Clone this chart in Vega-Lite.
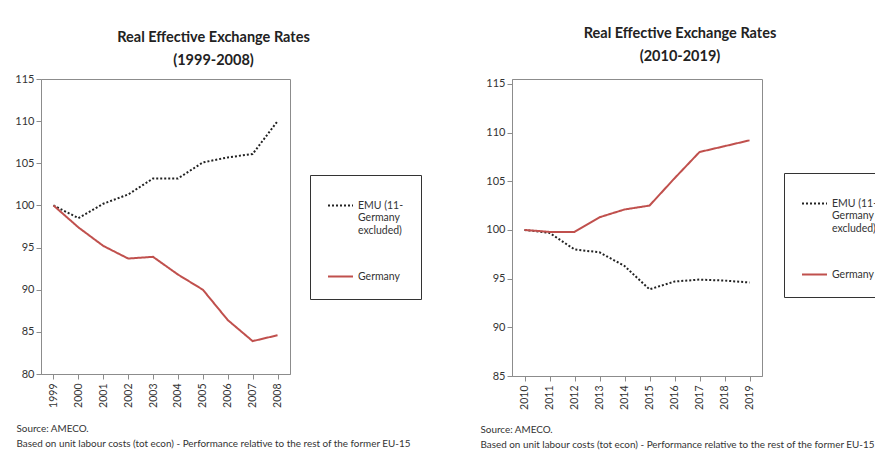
{
  "$schema": "https://vega.github.io/schema/vega-lite/v6.json",
  "padding": {"left": 14, "top": 25, "right": 0, "bottom": 0},
  "background": "white",
  "resolve": {"scale": {"color": "independent", "strokeDash": "independent", "x": "independent", "y": "independent"}, "legend": {"color": "independent", "strokeDash": "independent"}},
  "config": {
    "view": {"stroke": "#8c8c8c", "strokeWidth": 1},
    "font": "Lato",
    "concat": {"spacing": 57},
    "axis": {"labelFont": "Lato", "labelFontSize": 11, "labelColor": "#333", "domainColor": "#8c8c8c", "tickColor": "#8c8c8c", "grid": false},
    "legend": {"labelFont": "Lato", "labelFontSize": 10.5, "labelColor": "#333"}
  },
  "datasets": {
    "a": [
      {"year": "1999", "series": "EMU", "value": 100},
      {"year": "2000", "series": "EMU", "value": 98.5},
      {"year": "2001", "series": "EMU", "value": 100.2},
      {"year": "2002", "series": "EMU", "value": 101.3},
      {"year": "2003", "series": "EMU", "value": 103.2},
      {"year": "2004", "series": "EMU", "value": 103.2},
      {"year": "2005", "series": "EMU", "value": 105.1},
      {"year": "2006", "series": "EMU", "value": 105.7},
      {"year": "2007", "series": "EMU", "value": 106.1},
      {"year": "2008", "series": "EMU", "value": 110},
      {"year": "1999", "series": "Germany", "value": 100},
      {"year": "2000", "series": "Germany", "value": 97.4},
      {"year": "2001", "series": "Germany", "value": 95.2},
      {"year": "2002", "series": "Germany", "value": 93.7},
      {"year": "2003", "series": "Germany", "value": 93.9},
      {"year": "2004", "series": "Germany", "value": 91.8},
      {"year": "2005", "series": "Germany", "value": 90},
      {"year": "2006", "series": "Germany", "value": 86.4},
      {"year": "2007", "series": "Germany", "value": 83.9},
      {"year": "2008", "series": "Germany", "value": 84.6}
    ],
    "b": [
      {"year": "2010", "series": "EMU", "value": 100},
      {"year": "2011", "series": "EMU", "value": 99.7},
      {"year": "2012", "series": "EMU", "value": 98},
      {"year": "2013", "series": "EMU", "value": 97.7},
      {"year": "2014", "series": "EMU", "value": 96.3},
      {"year": "2015", "series": "EMU", "value": 93.9},
      {"year": "2016", "series": "EMU", "value": 94.7},
      {"year": "2017", "series": "EMU", "value": 94.9},
      {"year": "2018", "series": "EMU", "value": 94.8},
      {"year": "2019", "series": "EMU", "value": 94.6},
      {"year": "2010", "series": "Germany", "value": 100},
      {"year": "2011", "series": "Germany", "value": 99.8},
      {"year": "2012", "series": "Germany", "value": 99.8},
      {"year": "2013", "series": "Germany", "value": 101.3},
      {"year": "2014", "series": "Germany", "value": 102.1},
      {"year": "2015", "series": "Germany", "value": 102.5},
      {"year": "2016", "series": "Germany", "value": 105.3},
      {"year": "2017", "series": "Germany", "value": 108},
      {"year": "2018", "series": "Germany", "value": 108.6},
      {"year": "2019", "series": "Germany", "value": 109.2}
    ]
  },
  "hconcat": [
    {
      "width": 249,
      "height": 295,
      "title": {"text": ["Real Effective Exchange Rates", "(1999-2008)"], "dx": 48, "fontSize": 14.5, "font": "Lato", "fontWeight": "bold", "color": "#222", "lineHeight": 23, "offset": 5},
      "data": {"name": "a"},
      "mark": {"type": "line", "strokeWidth": 2},
      "encoding": {
        "x": {"field": "year", "type": "ordinal", "scale": {"padding": 0.5},
          "axis": {"labelAngle": -90, "labelPadding": 4, "labelFontSize": 10.5,
            "title": ["Source: AMECO.", "Based on unit labour costs (tot econ)  - Performance relative to the rest of the former EU-15"],
            "titleFont": "Lato", "titleFontSize": 9.9, "titleFontWeight": "normal", "titleColor": "#333",
            "titleAnchor": "start", "titleAlign": "left", "titleX": -25, "titleY": 57, "titleLineHeight": 15, "titleBaseline": "alphabetic"}},
        "y": {"field": "value", "type": "quantitative", "scale": {"domain": [80, 115], "nice": false, "zero": false},
          "axis": {"values": [80, 85, 90, 95, 100, 105, 110, 115], "title": null}},
        "color": {"field": "series", "type": "nominal", "scale": {"domain": ["EMU", "Germany"], "range": ["#222222", "#C0504D"]},
          "legend": {"title": null, "orient": "none", "legendX": 269, "legendY": 96, "strokeColor": "#333", "padding": 17, "symbolType": "stroke", "symbolSize": 625, "symbolStrokeWidth": 2, "rowPadding": 27,
            "labelExpr": "datum.label == 'EMU' ? ['EMU (11-', 'Germany', 'excluded)'] : datum.label"}},
        "strokeDash": {"field": "series", "type": "nominal", "scale": {"domain": ["EMU", "Germany"], "range": [[2, 2], [1, 0]]},
          "legend": {"title": null, "orient": "none", "legendX": 269, "legendY": 96, "strokeColor": "#333", "padding": 17, "symbolType": "stroke", "symbolSize": 625, "symbolStrokeWidth": 2, "rowPadding": 27,
            "labelExpr": "datum.label == 'EMU' ? ['EMU (11-', 'Germany', 'excluded)'] : datum.label"}}
      }
    },
    {
      "width": 250,
      "height": 297,
      "title": {"text": ["Real Effective Exchange Rates", "(2010-2019)"], "dx": 43, "fontSize": 14.5, "font": "Lato", "fontWeight": "bold", "color": "#222", "lineHeight": 23, "offset": 13},
      "data": {"name": "b"},
      "mark": {"type": "line", "strokeWidth": 2},
      "encoding": {
        "x": {"field": "year", "type": "ordinal", "scale": {"padding": 0.5},
          "axis": {"labelAngle": -90, "labelPadding": 4, "labelFontSize": 10.5,
            "title": ["Source: AMECO.", "Based on unit labour costs (tot econ)  - Performance relative to the rest of the former EU-15"],
            "titleFont": "Lato", "titleFontSize": 9.9, "titleFontWeight": "normal", "titleColor": "#333",
            "titleAnchor": "start", "titleAlign": "left", "titleX": -32, "titleY": 56, "titleLineHeight": 15, "titleBaseline": "alphabetic"}},
        "y": {"field": "value", "type": "quantitative", "scale": {"domain": [85, 115.5], "nice": false, "zero": false},
          "axis": {"values": [85, 90, 95, 100, 105, 110, 115], "title": null}},
        "color": {"field": "series", "type": "nominal", "scale": {"domain": ["EMU", "Germany"], "range": ["#222222", "#C0504D"]},
          "legend": {"title": null, "orient": "none", "legendX": 272, "legendY": 94, "strokeColor": "#333", "padding": 17, "symbolType": "stroke", "symbolSize": 625, "symbolStrokeWidth": 2, "rowPadding": 27,
            "labelExpr": "datum.label == 'EMU' ? ['EMU (11-', 'Germany', 'excluded)'] : datum.label"}},
        "strokeDash": {"field": "series", "type": "nominal", "scale": {"domain": ["EMU", "Germany"], "range": [[2, 2], [1, 0]]},
          "legend": {"title": null, "orient": "none", "legendX": 272, "legendY": 94, "strokeColor": "#333", "padding": 17, "symbolType": "stroke", "symbolSize": 625, "symbolStrokeWidth": 2, "rowPadding": 27,
            "labelExpr": "datum.label == 'EMU' ? ['EMU (11-', 'Germany', 'excluded)'] : datum.label"}}
      }
    }
  ]
}
